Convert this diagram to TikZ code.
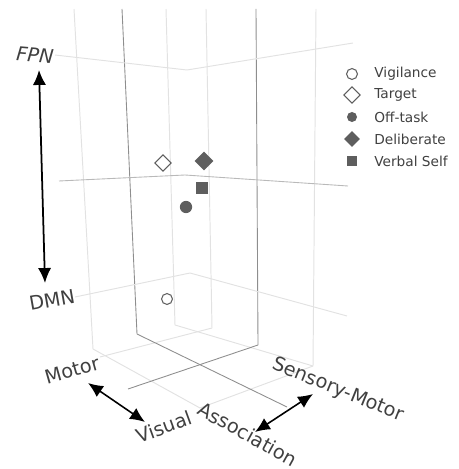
\documentclass[tikz,border=0pt]{standalone}
\usepackage{fontspec}
\setmainfont{DejaVu Sans}
\usepackage{tikz}
\usetikzlibrary{shapes.geometric, arrows.meta}
\definecolor{gridlight}{HTML}{E2E2E2}
\definecolor{griddark}{HTML}{8E8E8E}
\definecolor{markgray}{HTML}{5E5E5E}
\definecolor{labelgray}{HTML}{404040}
\tikzset{
  lightgrid/.style={draw=gridlight, line width=0.55pt},
  darkgrid/.style={draw=griddark, line width=0.5pt},
  axislabel/.style={text=labelgray, inner sep=0pt, font=\fontsize{11}{13}\selectfont},
  legendtext/.style={text=labelgray, inner sep=0pt, anchor=west, font=\fontsize{7.8}{9}\selectfont},
  opencirc/.style={circle, draw=markgray, line width=0.6pt, inner sep=0pt, minimum size=#1},
  fillcirc/.style={circle, fill=markgray, inner sep=0pt, minimum size=#1},
  opendiam/.style={diamond, draw=markgray, line width=0.6pt, inner sep=0pt, minimum size=#1},
  filldiam/.style={diamond, fill=markgray, inner sep=0pt, minimum size=#1},
  fillsq/.style={rectangle, fill=markgray, inner sep=0pt, minimum size=#1}
}

\begin{document}
\begin{tikzpicture}[>={Latex[length=8.5pt,width=7.5pt]}, x=0.02cm, y=-0.02cm]

    \useasboundingbox (0,0) rectangle (458,469);

    % walls and floor
    \draw[lightgrid] (74,9) -- (93,349);
    \draw[darkgrid] (122,9) -- (137,334);
    \draw[lightgrid] (166,9) -- (175,325);
    \draw[lightgrid] (206,9) -- (212,328);
    \draw[darkgrid] (256,9) -- (258,345);
    \draw[lightgrid] (316,9) -- (313,366);
    \draw[lightgrid] (55,55) -- (187,70) -- (353,43);
    \draw[draw=gray!55, line width=0.5pt] (59,181) -- (185,175) -- (348,186);
    \draw[lightgrid] (75,297) -- (190,273) -- (347,316);
    \draw[lightgrid] (212,328) -- (100,357);
    \draw[lightgrid] (93,349) -- (200,408) -- (313,366);
    \draw[lightgrid] (175,325) -- (313,366);
    \draw[darkgrid] (137,334) -- (287,407);
    \draw[darkgrid] (258,345) -- (128,389);

    \draw(35,55) node[axislabel, rotate=-5] (FPN) {\itshape FPN};
    \draw(52,300) node[axislabel, rotate=10] (DMN) {DMN};
    \draw(72,370) node[axislabel, rotate=16] (Mo) {Motor};
    \draw(164,427) node[axislabel, rotate=20] (Vi) {Visual};
    \draw(248,434) node[axislabel, rotate=-29] (As) {Association};
    \draw(338,390) node[axislabel, rotate=-22] (SM) {Sensory-Motor};

    \coordinate (FPNtip) at (39,70);
    \coordinate (DMNtip) at (45,283);
    \coordinate (Motip) at (88,383);
    \coordinate (Vitip) at (145,422);
    \coordinate (Astip) at (255,432);
    \coordinate (SMtip) at (313,394);
    \draw[<->, line width=1pt] (FPNtip) to (DMNtip);
    \draw[<->, line width=0.9pt] (Motip) to (Vitip);
    \draw[<->, line width=0.9pt] (Astip) to (SMtip);

    % data
    \draw(167,299) node[opencirc=6.2pt] (vig) {};
    \draw(163,163) node[opendiam=9.6pt] (tar) {};
    \draw(204,161) node[filldiam=10.8pt] (del) {};
    \draw(202,188) node[fillsq=6.8pt] (ver) {};
    \draw(186,207) node[fillcirc=7pt] (off) {};

    % legend
    \draw(352,74) node[opencirc=6.2pt] (Lvig) {};
    \draw(352,95) node[opendiam=9.6pt] (Ltar) {};
    \draw(352,117) node[fillcirc=5.7pt] (Loff) {};
    \draw(352,139) node[filldiam=9pt] (Ldel) {};
    \draw(352,161) node[fillsq=6pt] (Lver) {};
    \draw(374,74) node[legendtext] {Vigilance};
    \draw(374,95) node[legendtext] {Target};
    \draw(374,117) node[legendtext] {Off-task};
    \draw(374,139) node[legendtext] {Deliberate};
    \draw(374,161) node[legendtext] {Verbal Self};

    \end{tikzpicture}
\end{document}
